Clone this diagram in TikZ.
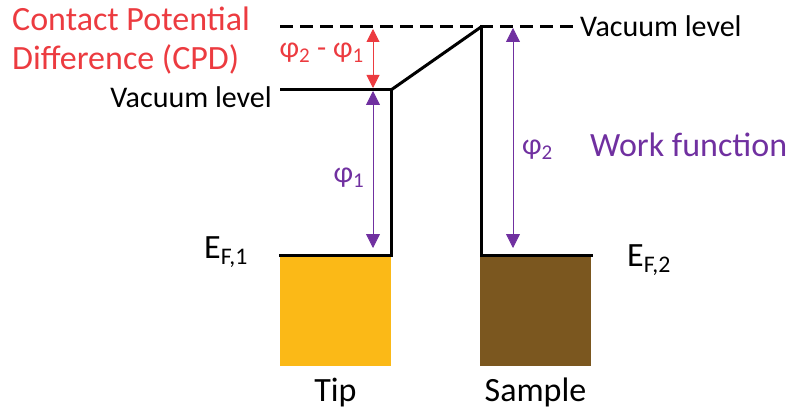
\documentclass[tikz,border=0pt]{standalone}
\usepackage{fontspec}
\setmainfont{Carlito}
\usetikzlibrary{arrows.meta,positioning}
\definecolor{cpdred}{HTML}{EC3B40}
\definecolor{wfpurple}{HTML}{7030A0}
\definecolor{tipgold}{HTML}{FBB917}
\definecolor{samplebrown}{HTML}{7B571F}
\tikzset{
  level/.style={draw=black,line width=3pt},
  vaclevel/.style={level,dash pattern=on 13pt off 7pt},
  metal/.style={anchor=north west,minimum width=111pt,minimum height=111pt,
                inner sep=0pt,outer sep=0pt},
  lbl/.style={inner sep=0pt,font=\fontsize{30}{34}\selectfont},
  biglbl/.style={inner sep=0pt,font=\fontsize{34}{39}\selectfont},
  gap/.style={{Triangle[length=13pt,width=13pt]}-{Triangle[length=13pt,width=13pt]},
              draw=cpdred,fill=cpdred,line width=1pt},
  wf/.style={{Triangle[length=14pt,width=14pt]}-{Triangle[length=14pt,width=14pt]},
             draw=wfpurple,fill=wfpurple,line width=0.8pt}
}

\begin{document}
\begin{tikzpicture}[x=1pt,y=-1pt]
  \useasboundingbox (0,0) rectangle (796,412);
  % band edges
  \coordinate (vacL) at (280,90);
  \coordinate (tipVac) at (391,90);
  \coordinate (tipEF) at (391,255);
  \coordinate (efL) at (279,255);
  \coordinate (sampVac) at (481,27);
  \coordinate (sampEF) at (481,255);
  \coordinate (efR) at (593,255);
  \coordinate (dashL) at (280,27);
  \coordinate (dashR) at (578,27);

  \node[metal,fill=tipgold] (tip) at (280,255) {};
  \node[metal,fill=samplebrown] (sample) at (480,255) {};

  \draw[vaclevel] (dashL) -- (dashR);
  \draw[level,line join=miter] (vacL) -- (tipVac) -- (tipEF) -- (efL);
  \draw[level] (tipVac) -- (sampVac);
  \draw[level,line join=miter] (sampVac) -- (sampEF) -- (efR);

  % arrows
  \coordinate (cpdTop) at (373,29);
  \coordinate (cpdBot) at (373,88);
  \coordinate (w1Top) at (373,91);
  \coordinate (w1Bot) at (373,248);
  \coordinate (w2Top) at (513,28);
  \coordinate (w2Bot) at (513,248);
  \draw[gap] (cpdTop) -- (cpdBot);
  \draw[wf] (w1Top) -- (w1Bot);
  \draw[wf] (w2Top) -- (w2Bot);

  % labels
  \node[biglbl,text=cpdred,align=left,anchor=north west] (cpd) at (12,7)
    {Contact Potential\\Difference (CPD)};
  \node[lbl,text=cpdred,anchor=east] (dphi) at (364,53) {φ\textsubscript{2} - φ\textsubscript{1}};
  \node[lbl,anchor=base east] (vacleft) at (272,108) {Vacuum level};
  \node[lbl,anchor=base west] (vacright) at (580,37) {Vacuum level};
  \node[lbl,text=wfpurple] (phi1) at (349,178) {φ\textsubscript{1}};
  \node[lbl,text=wfpurple,anchor=west] (phi2) at (522,150) {φ\textsubscript{2}};
  \node[biglbl,text=wfpurple,anchor=base west] (wfun) at (590,156) {Work function};
  \node[biglbl,anchor=base west] (ef1) at (204,258) {E\textsubscript{F,1}};
  \node[biglbl,anchor=base west] (ef2) at (627,266) {E\textsubscript{F,2}};
  \node[biglbl,below=12pt of tip] (tiplbl) {Tip};
  \node[biglbl,below=12pt of sample] (samplbl) {Sample};
\end{tikzpicture}
\end{document}
